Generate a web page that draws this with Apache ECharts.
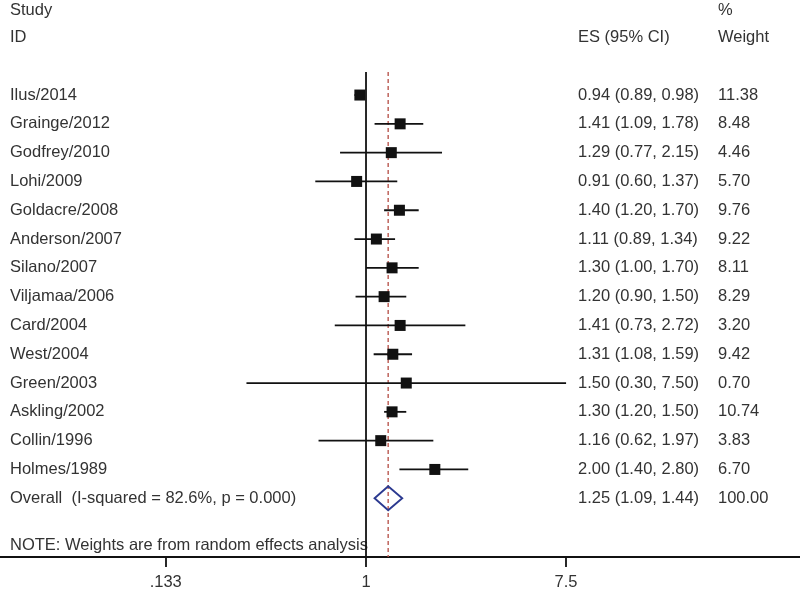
<!DOCTYPE html>
<html><head><meta charset="utf-8">
<script src="https://cdn.jsdelivr.net/npm/echarts@6/dist/echarts.min.js"></script>
<style>html,body{margin:0;padding:0;background:#fff}#c{width:800px;height:591px}</style>
</head><body><div id="c"></div>
<script>
const studies = ['Ilus/2014','Grainge/2012','Godfrey/2010','Lohi/2009','Goldacre/2008','Anderson/2007','Silano/2007','Viljamaa/2006','Card/2004','West/2004','Green/2003','Askling/2002','Collin/1996','Holmes/1989'];
const es = [0.94,1.41,1.29,0.91,1.40,1.11,1.30,1.20,1.41,1.31,1.50,1.30,1.16,2.00];
const lo = [0.89,1.09,0.77,0.60,1.20,0.89,1.00,0.90,0.73,1.08,0.30,1.20,0.62,1.40];
const hi = [0.98,1.78,2.15,1.37,1.70,1.34,1.70,1.50,2.72,1.59,7.50,1.50,1.97,2.80];
const weights = ['11.38','8.48','4.46','5.70','9.76','9.22','8.11','8.29','3.20','9.42','0.70','10.74','3.83','6.70'];
const overallLabel = 'Overall  (I-squared = 82.6%, p = 0.000)';
const overallES = 1.25, overallLo = 1.09, overallHi = 1.44, overallWeight = '100.00';
const noteText = 'NOTE: Weights are from random effects analysis';
const tickValues = [0.133, 1, 7.5];
const tickLabels = ['.133', '1', '7.5'];

const fmt = v => v.toFixed(2);
const FONT = '16.5px "Liberation Sans", Arial, sans-serif';
const TXT = '#333333';
const COL_STUDY = 10, COL_ES = 578, COL_W = 718;

const ciData = studies.map((s, i) => [es[i], i, lo[i], hi[i]]);
const overallRow = studies.length;
const noteRow = overallRow + 1.65;

const textData = [];
textData.push([1, -2.92, COL_STUDY, 'Study']);
textData.push([1, -2.0, COL_STUDY, 'ID']);
textData.push([1, -2.0, COL_ES, 'ES (95% CI)']);
textData.push([1, -2.92, COL_W, '%']);
textData.push([1, -2.0, COL_W, 'Weight']);
studies.forEach((s, i) => {
  textData.push([1, i, COL_STUDY, s]);
  textData.push([1, i, COL_ES, fmt(es[i]) + ' (' + fmt(lo[i]) + ', ' + fmt(hi[i]) + ')']);
  textData.push([1, i, COL_W, weights[i]]);
});
textData.push([1, overallRow, COL_STUDY, overallLabel]);
textData.push([1, overallRow, COL_ES, fmt(overallES) + ' (' + fmt(overallLo) + ', ' + fmt(overallHi) + ')']);
textData.push([1, overallRow, COL_W, overallWeight]);
textData.push([1, noteRow, COL_STUDY, noteText]);

const chart = echarts.init(document.getElementById('c'));
chart.setOption({
  animation: false,
  backgroundColor: '#fff',
  grid: {left: 0, right: 0, top: 0, bottom: 34},
  xAxis: {
    type: 'log', logBase: 7.5, min: 0.02507, max: 79.1,
    axisLine: {show: true, onZero: false, lineStyle: {color: '#111', width: 1.8}},
    axisTick: {show: true, length: 10, lineStyle: {color: '#111', width: 1.8}, customValues: tickValues},
    axisLabel: {show: true, margin: 17, fontSize: 16.5, color: TXT, fontFamily: '"Liberation Sans", Arial, sans-serif',
      customValues: tickValues,
      formatter: v => { const k = tickValues.findIndex(t => Math.abs(t - v) < 1e-6); return k >= 0 ? tickLabels[k] : ''; }},
    splitLine: {show: false}
  },
  yAxis: {type: 'value', inverse: true, min: -3.30, max: 16.04, show: false},
  series: [
    {
      type: 'custom', silent: true, z: 1,
      data: textData,
      renderItem: (params, api) => {
        const d = textData[params.dataIndex];
        const y = api.coord([1, d[1]])[1];
        return {type: 'text', style: {text: d[3], x: d[2], y: y, font: FONT, fill: TXT, verticalAlign: 'middle', align: 'left'}};
      }
    },
    {
      type: 'line', silent: true, symbol: 'none', z: 3,
      lineStyle: {color: '#111', width: 1.8},
      data: [[1, -0.8], [1, 16.04]]
    },
    {
      type: 'line', silent: true, symbol: 'none', z: 2,
      lineStyle: {color: '#b9574f', width: 1.4, type: [4, 3]},
      data: [[overallES, -0.8], [overallES, 16.04]]
    },
    {
      type: 'custom', silent: true, z: 4,
      data: ciData,
      renderItem: (params, api) => {
        const r = api.value(1);
        const pl = api.coord([api.value(2), r]);
        const ph = api.coord([api.value(3), r]);
        const pe = api.coord([api.value(0), r]);
        const s = 11;
        return {type: 'group', children: [
          {type: 'line', shape: {x1: pl[0], y1: pl[1], x2: ph[0], y2: ph[1]}, style: {stroke: '#111', lineWidth: 1.8}},
          {type: 'rect', shape: {x: pe[0] - s/2, y: pe[1] - s/2, width: s, height: s}, style: {fill: '#111'}}
        ]};
      }
    },
    {
      type: 'custom', silent: true, z: 5,
      data: [[overallES, overallRow, overallLo, overallHi]],
      renderItem: (params, api) => {
        const r = api.value(1);
        const pl = api.coord([api.value(2), r]);
        const ph = api.coord([api.value(3), r]);
        const pe = api.coord([api.value(0), r]);
        return {type: 'polygon', shape: {points: [[pl[0], pl[1]], [pe[0], pe[1] - 12], [ph[0], ph[1]], [pe[0], pe[1] + 12]]},
          style: {fill: 'none', stroke: '#2b3990', lineWidth: 1.9}};
      }
    }
  ]
});
</script>
</body></html>
